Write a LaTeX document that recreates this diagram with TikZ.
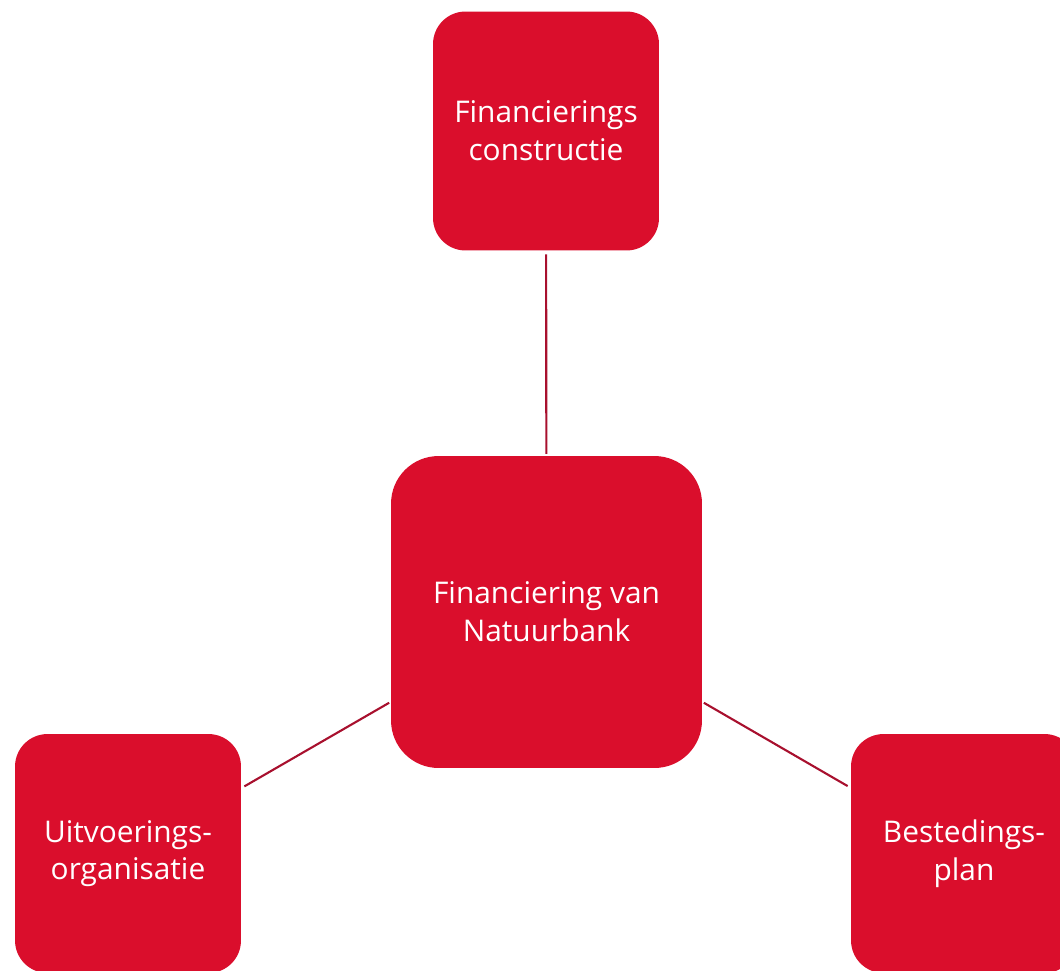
\documentclass[tikz,border=0pt]{standalone}
\usepackage{fontspec}
\setmainfont{Open Sans}
\usetikzlibrary{positioning,calc}
\definecolor{nbred}{RGB}{218,14,44}
\definecolor{nbline}{RGB}{168,16,46}
\tikzset{%
  every block/.style={draw=none,fill=nbred,text=white,align=center,font=\fontsize{17}{21.5}\selectfont},
}

\begin{document}
\begin{tikzpicture}[
            x=0.02cm,y=-0.02cm,
            small/.style={
              every block,
              rectangle,
              rounded corners=0.65cm,
              minimum width=4.52cm,
              minimum height=4.78cm
              },
            big/.style={
              every block,
              rectangle,
              rounded corners=0.95cm,
              minimum width=6.22cm,
              minimum height=6.24cm
              },
            link/.style={
              draw=nbline,
              line width=1.2pt,
              shorten <=2pt,
              shorten >=1pt
              }
            ]
            \useasboundingbox (0,0) rectangle (1060,970);
            \node[big] (fin) at (546.5,612) {Financiering van\\Natuurbank};
            \node[small] (constr) at (546,131) {Financierings\\constructie};
            \node[small] (uitv) at (128,853.5) {Uitvoerings-\\organisatie};
            \node[small] (plan) at (964,853.5) {Bestedings-\\plan};

            \foreach \bl in {constr,uitv,plan}
              \draw[link] (\bl) -- (fin);
        \end{tikzpicture}
\end{document}
